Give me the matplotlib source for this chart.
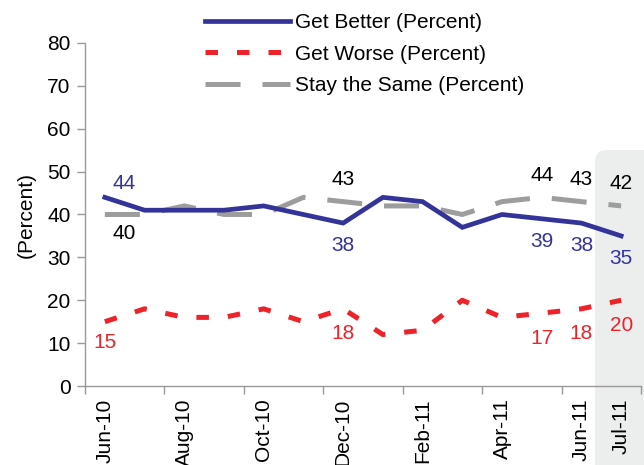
import matplotlib
matplotlib.use("Agg")
import matplotlib.pyplot as plt
from matplotlib.patches import FancyBboxPatch

plt.rcParams['font.family'] = ['Liberation Sans', 'DejaVu Sans']

months = ["Jun-10", "Jul-10", "Aug-10", "Sep-10", "Oct-10", "Nov-10", "Dec-10",
          "Jan-11", "Feb-11", "Mar-11", "Apr-11", "May-11", "Jun-11", "Jul-11"]
get_better = [44, 41, 41, 41, 42, 40, 38, 44, 43, 37, 40, 39, 38, 35]
get_worse = [15, 18, 16, 16, 18, 15, 18, 12, 13, 20, 16, 17, 18, 20]
stay_same = [40, 40, 42, 40, 40, 44, 43, 42, 42, 40, 43, 44, 43, 42]
tick_months = ["Jun-10", "Aug-10", "Oct-10", "Dec-10", "Feb-11", "Apr-11", "Jun-11", "Jul-11"]
labelled = [0, 6, 11, 12, 13]  # months that carry value labels

BLUE = '#333399'
RED = '#ee2229'
GRAY = '#9d9d9d'
FS = 15

fig = plt.figure(figsize=(6.44, 4.65), dpi=100)
ax = fig.add_axes([85 / 644, 1 - 386 / 465, 556 / 644, 343 / 465])
ax.set_facecolor('none')

# shaded box behind the latest month
shade = FancyBboxPatch((5.95, -0.2), 0.7, 3.35, boxstyle="round,pad=0,rounding_size=0.12",
                       transform=fig.dpi_scale_trans, facecolor='#eceeee', edgecolor='none',
                       zorder=-1)
fig.patches.append(shade)

x = [i + 0.5 for i in range(len(months))]
ax.plot(x, get_better, color=BLUE, lw=3.4, solid_joinstyle='miter',
        label='Get Better (Percent)', zorder=4)
ax.plot(x, get_worse, color=RED, lw=3.6, dashes=(2.5, 3.8),
        label='Get Worse (Percent)', zorder=3)
ax.plot(x, stay_same, color=GRAY, lw=3.6, dashes=(7.0, 4.4),
        label='Stay the Same (Percent)', zorder=2)

for i in labelled:
    dx = 14 if i == 0 else 0
    ax.annotate(str(get_better[i]), (x[i], get_better[i]),
                xytext=(dx, 10 if i == 0 else -16), textcoords='offset points',
                ha='center', va='center', color=BLUE, fontsize=FS)
    ax.annotate(str(stay_same[i]), (x[i], stay_same[i]),
                xytext=(dx, -14 if i == 0 else 16), textcoords='offset points',
                ha='center', va='center', color='black', fontsize=FS)
    ax.annotate(str(get_worse[i]), (x[i], get_worse[i]),
                xytext=(0, -15 if i == 0 else -18), textcoords='offset points',
                ha='center', va='center', color=RED, fontsize=FS)

ax.set_xlim(0, len(months))
ax.set_ylim(0, 80)
ax.set_yticks(range(0, 81, 10))
ax.set_xticks(range(0, len(months) + 1, 2))
ax.set_xticklabels([])
tick_pos = [x[months.index(m)] for m in tick_months]
ax.set_xticks(tick_pos, minor=True)
ax.set_xticklabels(tick_months, minor=True, rotation=90, fontsize=FS)
ax.tick_params(axis='x', which='minor', length=0, pad=9)
ax.tick_params(axis='both', which='major', color='#999999', length=5.5, width=1,
               labelsize=FS, direction='out')
ax.tick_params(axis='y', pad=5)

for side in ['top', 'right']:
    ax.spines[side].set_visible(False)
for side in ['left', 'bottom']:
    ax.spines[side].set_color('#999999')
    ax.spines[side].set_linewidth(1)

ax.set_ylabel('(Percent)', fontsize=FS, labelpad=8)

fig.legend(loc='upper left', bbox_to_anchor=(205 / 644, 1 - 13 / 465), frameon=False,
           fontsize=FS, handlelength=4.1, handletextpad=0.2, labelspacing=0.6,
           borderaxespad=0, borderpad=0)

fig.savefig('out.png', dpi=100)
